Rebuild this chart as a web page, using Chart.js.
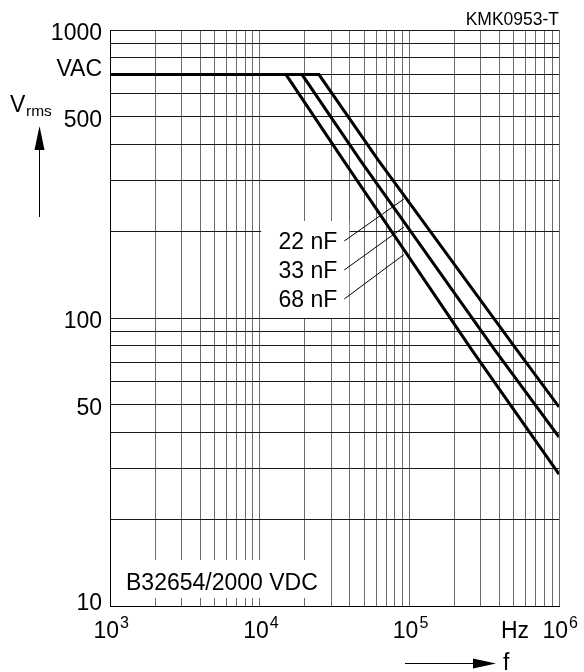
<!DOCTYPE html>
<html lang="en">
  <head>
    <meta charset="UTF-8" />
    <script src="https://cdn.jsdelivr.net/npm/chart.js@4/dist/chart.umd.min.js"></script>
    <title>KMK0953-T</title>
    <style>
      body { margin: 0; background: #fff; }
      canvas { display: block; }
    </style>
  </head>
  <body>
    <canvas id="myChart" width="584" height="672"></canvas>
    <script>
      // curves (frequency in Hz, voltage in V rms)
      const freq22 = [1000, 24900, 61800, 524000, 1000000];
      const volt22 = [700, 700, 354, 77.4, 49.1];
      const freq33 = [1000, 19200, 46800, 373000, 1000000];
      const volt33 = [700, 700, 354, 77.4, 38.6];
      const freq68 = [1000, 15000, 36100, 262000, 1000000];
      const volt68 = [700, 700, 354, 77.4, 28.7];
      const seriesNames = ["22 nF", "33 nF", "68 nF"];

      const yTickValues = [1000, 500, 100, 50, 10];
      const yTickLabels = ["1000", "500", "100", "50", "10"];
      const xTickExps = [3, 4, 5, 6];
      const yUnit = "VAC";
      const xUnit = "Hz";
      const typeText = "B32654/2000 VDC";
      const figureId = "KMK0953-T";

      // where the capacitance labels sit and where their leaders end
      const labelF = 33000;
      const labelV = [174, 138, 109];
      const leaderF = 92000;
      const leaderV = [259, 207, 166];

      const FONT = '"Liberation Sans", Arial, sans-serif';

      function decades(lo, hi) {
        const out = [];
        for (let d = lo; d < hi; d *= 10) {
          for (let m = 1; m <= 9; m++) out.push(m * d);
        }
        out.push(hi);
        return out;
      }

      const overlay = {
        id: "overlay",
        beforeDatasetsDraw(chart) {
          const { ctx, chartArea: a, scales } = chart;
          const x = scales.x, y = scales.y;
          ctx.save();
          ctx.font = "23px " + FONT;
          ctx.textBaseline = "alphabetic";

          // capacitance labels with white patch over the grid
          const lx = x.getPixelForValue(labelF);
          const ly = labelV.map((v) => Math.round(y.getPixelForValue(v)));
          ctx.fillStyle = "#fff";
          ctx.fillRect(lx - 76, ly[0] - 28, 88, ly[2] - ly[0] + 39);
          ctx.strokeStyle = "#000";
          ctx.lineWidth = 1;
          for (let i = 0; i < seriesNames.length; i++) {
            ctx.beginPath();
            ctx.moveTo(lx + 7, ly[i] - 8);
            ctx.lineTo(x.getPixelForValue(leaderF), y.getPixelForValue(leaderV[i]));
            ctx.stroke();
          }
          ctx.fillStyle = "#000";
          ctx.textAlign = "right";
          seriesNames.forEach((s, i) => ctx.fillText(s, lx, ly[i]));

          // type designation box
          ctx.textAlign = "left";
          const tx = a.left + 16, ty = a.bottom - 16;
          const tw = ctx.measureText(typeText).width;
          ctx.fillStyle = "#fff";
          ctx.fillRect(tx - 2, ty - 30, tw + 6, 38);
          ctx.fillStyle = "#000";
          ctx.fillText(typeText, tx, ty);
          ctx.restore();
        },
        afterDraw(chart) {
          const { ctx, chartArea: a, scales } = chart;
          const x = scales.x, y = scales.y;
          ctx.save();
          ctx.fillStyle = "#000";
          ctx.strokeStyle = "#000";
          ctx.textBaseline = "alphabetic";

          // y tick labels
          ctx.font = "23px " + FONT;
          ctx.textAlign = "right";
          yTickValues.forEach((v, i) => {
            const py = y.getPixelForValue(v);
            ctx.fillText(yTickLabels[i], a.left - 8, Math.min(py + 10, a.bottom + 4));
          });
          ctx.fillText(yUnit, a.left - 8, a.top + 46);

          // x tick labels as powers of ten
          ctx.textAlign = "left";
          xTickExps.forEach((e) => {
            const px = x.getPixelForValue(Math.pow(10, e));
            const left = px - 16.5;
            ctx.font = "23px " + FONT;
            ctx.fillText("10", left, a.bottom + 32);
            const w = ctx.measureText("10").width;
            ctx.font = "16px " + FONT;
            ctx.fillText(String(e), left + w + 1, a.bottom + 22);
          });
          ctx.font = "23px " + FONT;
          ctx.textAlign = "right";
          ctx.fillText(xUnit, a.right - 30, a.bottom + 32);

          // V rms with upward arrow
          ctx.textAlign = "left";
          ctx.fillText("V", 10, 112);
          ctx.font = "15.5px " + FONT;
          ctx.fillText("rms", 26, 116);
          ctx.lineWidth = 1;
          ctx.beginPath();
          ctx.moveTo(39.5, 217);
          ctx.lineTo(39.5, 148);
          ctx.stroke();
          ctx.beginPath();
          ctx.moveTo(39.5, 126);
          ctx.lineTo(34.5, 150);
          ctx.lineTo(44.5, 150);
          ctx.closePath();
          ctx.fill();

          // f with right arrow
          ctx.beginPath();
          ctx.moveTo(405, 663.5);
          ctx.lineTo(475, 663.5);
          ctx.stroke();
          ctx.beginPath();
          ctx.moveTo(496, 663.5);
          ctx.lineTo(473, 658.5);
          ctx.lineTo(473, 668.5);
          ctx.closePath();
          ctx.fill();
          ctx.font = "23px " + FONT;
          ctx.fillText("f", 503, 670);

          // figure id
          ctx.font = "17.5px " + FONT;
          ctx.textAlign = "right";
          ctx.fillText(figureId, a.right, 25);
          ctx.restore();
        },
      };

      function pts(fs, vs) {
        return fs.map((f, i) => ({ x: f, y: vs[i] }));
      }

      const lineStyle = {
        borderColor: "#000",
        borderWidth: 3,
        pointRadius: 0,
        tension: 0,
        borderJoinStyle: "miter",
        fill: false,
      };

      new Chart(document.getElementById("myChart").getContext("2d"), {
        type: "line",
        plugins: [overlay],
        data: {
          datasets: [
            { label: seriesNames[0], data: pts(freq22, volt22), ...lineStyle },
            { label: seriesNames[1], data: pts(freq33, volt33), ...lineStyle },
            { label: seriesNames[2], data: pts(freq68, volt68), ...lineStyle },
          ],
        },
        options: {
          responsive: false,
          animation: false,
          devicePixelRatio: 1,
          layout: { padding: { left: 110, top: 30, right: 25, bottom: 66 } },
          plugins: {
            legend: { display: false },
            tooltip: { enabled: false },
          },
          scales: {
            x: {
              type: "logarithmic",
              min: 1000,
              max: 1000000,
              afterBuildTicks: (s) => {
                s.ticks = decades(1000, 1000000).map((v) => ({ value: v }));
              },
              ticks: { display: false },
              grid: { color: "#6a6a6a", lineWidth: 1, drawTicks: false },
              border: { color: "#000", width: 1 },
            },
            y: {
              type: "logarithmic",
              min: 10,
              max: 1000,
              afterBuildTicks: (s) => {
                s.ticks = decades(10, 1000).map((v) => ({ value: v }));
              },
              ticks: { display: false },
              grid: { color: "#1a1a1a", lineWidth: 1, drawTicks: false },
              border: { color: "#000", width: 1 },
            },
          },
        },
      });
    </script>
  </body>
</html>
